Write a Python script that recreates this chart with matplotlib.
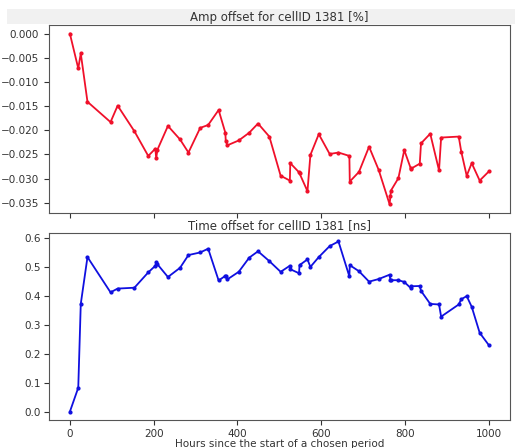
import numpy as np
import matplotlib.pyplot as plt
from matplotlib.patches import Rectangle

# 時間 (hours since start)
hours = [0, 20, 26, 42, 97, 114, 154, 187, 204, 206, 209, 234, 263, 283, 311,
         330, 355, 371, 372, 376, 403, 428, 449, 476, 503, 525, 526, 547, 548,
         567, 574, 594, 620, 641, 667, 668, 690, 714, 737, 763, 765, 766, 784,
         798, 814, 815, 835, 838, 860, 881, 886, 928, 934, 947, 959, 978, 1000]

# amplitude offset [%]
amp_offset = [0.0, -0.0072, -0.0041, -0.0141, -0.0183, -0.0149, -0.0202,
              -0.0253, -0.0238, -0.0258, -0.0240, -0.0191, -0.0219, -0.0246,
              -0.0195, -0.0189, -0.0158, -0.0205, -0.0222, -0.0231, -0.0221,
              -0.0205, -0.0186, -0.0213, -0.0294, -0.0304, -0.0268, -0.0287,
              -0.0289, -0.0326, -0.0251, -0.0208, -0.0249, -0.0246, -0.0253,
              -0.0306, -0.0286, -0.0234, -0.0282, -0.0353, -0.0336, -0.0325,
              -0.0299, -0.0241, -0.0280, -0.0279, -0.0269, -0.0227, -0.0207,
              -0.0283, -0.0215, -0.0213, -0.0244, -0.0294, -0.0268, -0.0304,
              -0.0285]

# time offset [ns]
time_offset = [0.0, 0.083, 0.373, 0.535, 0.413, 0.426, 0.429, 0.482, 0.505,
               0.518, 0.510, 0.466, 0.498, 0.542, 0.551, 0.564, 0.454, 0.470,
               0.468, 0.458, 0.484, 0.533, 0.555, 0.521, 0.484, 0.505, 0.493,
               0.479, 0.507, 0.527, 0.501, 0.535, 0.573, 0.589, 0.468, 0.507,
               0.486, 0.450, 0.459, 0.474, 0.455, 0.455, 0.455, 0.449, 0.427,
               0.434, 0.435, 0.418, 0.373, 0.371, 0.329, 0.371, 0.389, 0.400,
               0.363, 0.273, 0.230]

cell_id = 1381

fig = plt.figure(figsize=(5.15, 4.48), dpi=100)

# スクリーンショット上部の灰色の帯
fig.patches.append(Rectangle((0.014, 0.946), 0.986, 0.034, transform=fig.transFigure,
                             facecolor='#f1f1f1', edgecolor='none', zorder=-1))

ax1 = fig.add_axes([0.095, 0.525, 0.895, 0.419])
ax2 = fig.add_axes([0.095, 0.062, 0.895, 0.418], sharex=ax1)

ax1.plot(hours, amp_offset, '.-', color='#f0102a', markersize=4, linewidth=1.3)
ax1.set_title(f'Amp offset for cellID {cell_id} [%]', fontsize=8.5, pad=3, color='#333333')
ax1.set_yticks(np.arange(-0.035, 0.0001, 0.005))
ax1.tick_params(labelbottom=False, labelsize=7.5, colors='#333333')

ax2.plot(hours, time_offset, '.-', color='#1010e0', markersize=4, linewidth=1.3)
ax2.set_title(f'Time offset for cellID {cell_id} [ns]', fontsize=8.5, pad=3, color='#333333')
ax2.set_xlabel('Hours since the start of a chosen period', fontsize=7.5, labelpad=0, color='#333333')
ax2.tick_params(labelsize=7.5, colors='#333333', pad=2.5)
ax2.set_xticks([0, 200, 400, 600, 800, 1000])

for ax in (ax1, ax2):
    for s in ax.spines.values():
        s.set_color('#555555')

plt.savefig('out.png', dpi=100)
